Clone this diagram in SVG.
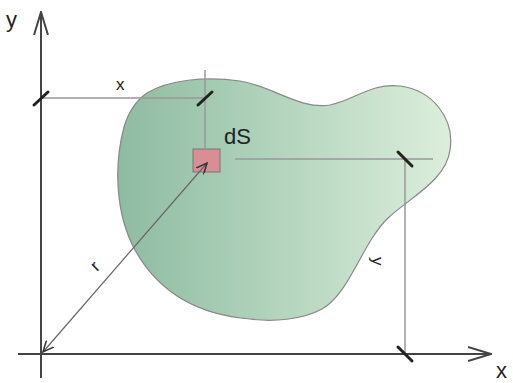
<svg xmlns="http://www.w3.org/2000/svg" width="513" height="383" viewBox="0 0 513 383">
<style>
.axis{stroke:#444;stroke-width:2;fill:none}
.dim{stroke:#999;stroke-width:1.5;fill:none}
.tick{stroke:#222;stroke-width:3;stroke-linecap:round}
.lbl{font-family:"Liberation Sans",Arial,sans-serif;fill:#222}
</style>
<defs>
<linearGradient id="g" x1="115" y1="0" x2="455" y2="0" gradientUnits="userSpaceOnUse">
<stop offset="0" stop-color="#8dbba1"/>
<stop offset="1" stop-color="#ddefdc"/>
</linearGradient>
<marker id="ah" viewBox="0 0 12 10" refX="11" refY="5" markerWidth="12" markerHeight="10" markerUnits="userSpaceOnUse" orient="auto-start-reverse">
<path d="M0,0 L11,5 L0,10" fill="none" stroke="#333" stroke-width="1.5"/>
</marker>
<marker id="axh" viewBox="0 0 24 16" refX="23" refY="8" markerWidth="24" markerHeight="16" markerUnits="userSpaceOnUse" orient="auto">
<path d="M0,1 L23,8 L0,15" fill="none" stroke="#444" stroke-width="2"/>
</marker>
</defs>
<g id="area">
<path d="M147,93 C168,80 205,76 240,81 C272,86 300,110 330,105 C355,100 370,83 400,86 C432,90 455,118 450,150 C446,180 412,196 388,218 C362,243 350,293 322,309 C302,320 272,322 250,319 C200,315 160,295 135,250 C115,213 114,165 124,127 C129,110 137,100 147,93 Z" fill="url(#g)" stroke="#888" stroke-width="1.2"/>
</g>
<g id="dS">
<rect x="193" y="149" width="27" height="23" fill="#d98e96" stroke="#777" stroke-width="1"/>
</g>
<g id="connectors">
<line class="dim" x1="41" y1="98" x2="205" y2="98"/>
<line class="dim" x1="205" y1="70" x2="205" y2="149"/>
<line class="dim" x1="235" y1="159" x2="433" y2="159"/>
<line class="dim" x1="405" y1="159" x2="405" y2="354"/>
<line x1="43" y1="352" x2="207" y2="163" stroke="#666" stroke-width="1.2" marker-start="url(#ah)" marker-end="url(#ah)"/>
</g>
<g id="axes">
<line class="axis" x1="41" y1="378" x2="41" y2="12" marker-end="url(#axh)"/>
<line class="axis" x1="18" y1="354" x2="491" y2="354" marker-end="url(#axh)"/>
</g>
<g id="ticks">
<line class="tick" x1="34" y1="105" x2="48" y2="92"/>
<line class="tick" x1="198" y1="105" x2="212" y2="92"/>
<line class="tick" x1="398" y1="152" x2="412" y2="166"/>
<line class="tick" x1="398" y1="347" x2="412" y2="361"/>
</g>
<g id="labels">
<text class="lbl" x="6" y="27" font-size="22">y</text>
<text class="lbl" x="496" y="378" font-size="22">x</text>
<text class="lbl" x="116" y="90" font-size="17">x</text>
<text class="lbl" x="224" y="144" font-size="22">dS</text>
<text class="lbl" font-size="17" transform="translate(372,257) rotate(90)">y</text>
<text class="lbl" font-size="17" transform="translate(97,272) rotate(-45)">r</text>
</g>
</svg>
